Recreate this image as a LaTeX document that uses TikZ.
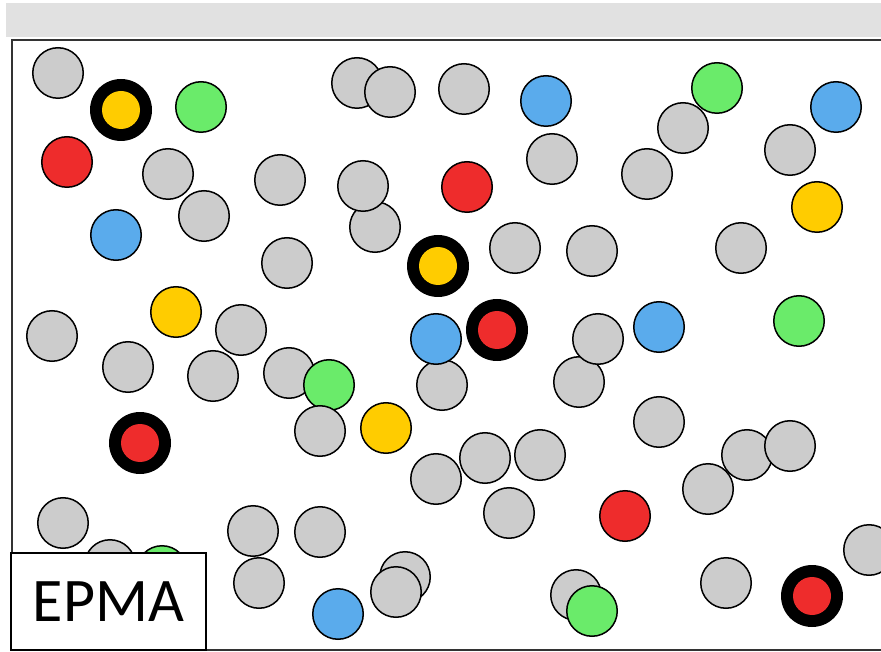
\documentclass[tikz,border=0pt]{standalone}
\usepackage{fontspec}
\setmainfont{Carlito}
\definecolor{cgray}{HTML}{CCCCCC}
\definecolor{cgreen}{HTML}{6AEB6A}
\definecolor{cred}{HTML}{EE2C2C}
\definecolor{cblue}{HTML}{5AABEC}
\definecolor{cyellow}{HTML}{FFCC00}
\definecolor{cbar}{HTML}{E1E1E1}
\definecolor{cframe}{HTML}{333333}
\tikzset{
  dot/.style={circle, draw=black, line width=1.5pt, minimum size=50.5pt, inner sep=0pt},
  G/.style={dot, fill=cgray},
  Gr/.style={dot, fill=cgreen},
  R/.style={dot, fill=cred},
  B/.style={dot, fill=cblue},
  Y/.style={dot, fill=cyellow},
  ring/.style={circle, fill=black, minimum size=62pt, inner sep=0pt},
  core/.style={circle, minimum size=38pt, inner sep=0pt},
  labelbox/.style={draw=black, line width=1.3pt, fill=white, minimum width=195pt, minimum height=97pt, inner sep=0pt, font=\fontsize{62}{62}\selectfont}
}
\newcommand{\pc}[4]{\node[#2] (#1) at (#3,-#4) {};}
\newcommand{\rc}[4]{\node[ring] (#1) at (#3,-#4) {}; \node[core, fill=#2] (#1c) at (#3,-#4) {};}
\begin{document}
\begin{tikzpicture}[x=1pt,y=1pt]
\useasboundingbox (0,0) rectangle (881,-652);
\clip (0,0) rectangle (881,-652);
\fill[white] (0,0) rectangle (881,-652);
\fill[cbar] (6,-3) rectangle (890,-37);
\fill[white] (12,-40) rectangle (895,-650);
% circles
\pc{a1}{G}{58}{73}
\rc{k1}{cyellow}{121}{110}
\pc{a2}{Gr}{201}{107}
\pc{a3}{G}{357}{83}
\pc{a4}{G}{390}{92}
\pc{a5}{G}{464}{89}
\pc{a6}{B}{546}{101}
\pc{a7}{Gr}{717}{88}
\pc{a8}{G}{683}{128}
\pc{a9}{B}{836}{107}
\pc{a10}{G}{790}{150}
\pc{b1}{R}{67}{162}
\pc{b2}{G}{168}{174}
\pc{b3}{G}{280}{180}
\pc{b4}{G}{375}{227}
\pc{b5}{G}{363}{186}
\pc{b6}{R}{467}{187}
\pc{b7}{G}{552}{159}
\pc{b8}{G}{647}{174}
\pc{b9}{Y}{817}{207}
\pc{c1}{G}{204}{216}
\pc{c2}{B}{116}{235}
\pc{c3}{G}{287}{263}
\rc{k2}{cyellow}{438}{266}
\pc{c4}{G}{515}{248}
\pc{c5}{G}{592}{251}
\pc{c6}{G}{741}{248}
\pc{d1}{G}{52}{336}
\pc{d2}{Y}{176}{312}
\pc{d3}{G}{241}{330}
\pc{d4}{G}{442}{385}
\pc{d5}{B}{436}{339}
\rc{k3}{cred}{497}{330}
\pc{d6}{G}{579}{382}
\pc{d7}{G}{598}{339}
\pc{d8}{B}{659}{327}
\pc{d9}{Gr}{799}{321}
\pc{e1}{G}{128}{367}
\pc{e2}{G}{213}{376}
\pc{e3}{G}{289}{373}
\pc{e4}{Gr}{329}{385}
\pc{e5}{G}{320}{431}
\pc{e6}{Y}{386}{428}
\rc{k4}{cred}{140}{443}
\pc{e7}{G}{659}{422}
\pc{f1}{G}{436}{479}
\pc{f2}{G}{485}{458}
\pc{f3}{G}{540}{455}
\pc{f4}{G}{708}{489}
\pc{f5}{G}{747}{455}
\pc{f6}{G}{790}{446}
\pc{g1}{G}{63}{523}
\pc{g2}{G}{110}{565}
\pc{g3}{Gr}{162}{571}
\pc{g4}{G}{253}{531}
\pc{g5}{G}{320}{532}
\pc{g6}{G}{509}{513}
\pc{g7}{R}{625}{516}
\pc{h1}{G}{259}{583}
\pc{h2}{G}{405}{577}
\pc{h3}{G}{396}{592}
\pc{h4}{B}{338}{614}
\pc{h5}{G}{576}{595}
\pc{h6}{Gr}{592}{611}
\pc{h7}{G}{726}{583}
\rc{k5}{cred}{812}{596}
\pc{h8}{G}{869}{550}
% frame
\draw[cframe, line width=2pt] (895,-40) -- (12,-40) -- (12,-650) -- (895,-650);
\node[labelbox] (epma) at (108.5,-601.5) {EPMA};
\end{tikzpicture}
\end{document}
